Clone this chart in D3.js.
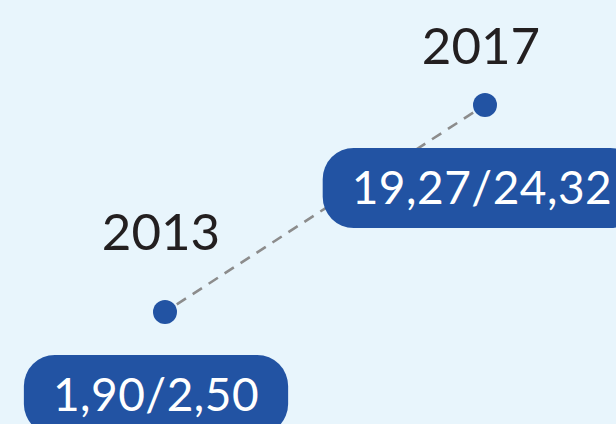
<!DOCTYPE html>
<html>
<head>
<meta charset="utf-8">
<script src="https://cdn.jsdelivr.net/npm/d3@7"></script>
<style>
  html, body { margin: 0; padding: 0; background: #e8f5fc; overflow: hidden; }
  svg { display: block; }
</style>
</head>
<body>
<div id="chart"></div>
<script>
// data
const years = [2013, 2017];
const lowValues = [1.90, 19.27];
const highValues = [2.50, 24.32];

const width = 616, height = 424;
const fmt = v => v.toFixed(2).replace('.', ',');

// how far each year label sits above its marker, and each pill's sideways shift
const labelLift = { 2013: 62, 2017: 41 };
const pillShift = { 2013: -9, 2017: -3 };

const svg = d3.select('#chart').append('svg')
  .attr('width', width)
  .attr('height', height);

svg.append('rect')
  .attr('width', width).attr('height', height)
  .attr('fill', '#e8f5fc');

const x = d3.scaleLinear().domain([2013, 2017]).range([165, 485]);
const y = d3.scaleLinear().domain([1.90, 19.27]).range([312, 105]);

const points = years.map((yr, i) => ({ year: yr, low: lowValues[i], high: highValues[i] }));

// dashed connector
svg.append('path')
  .datum(points)
  .attr('fill', 'none')
  .attr('stroke', '#8c8c8c')
  .attr('stroke-width', 2.6)
  .attr('stroke-dasharray', '11 8')
  .attr('stroke-dashoffset', -14)
  .attr('d', d3.line().x(d => x(d.year)).y(d => y(d.low)));

// markers
svg.selectAll('circle.pt')
  .data(points)
  .enter().append('circle')
  .attr('class', 'pt')
  .attr('cx', d => x(d.year))
  .attr('cy', d => y(d.low))
  .attr('r', 12)
  .attr('fill', '#2253a3');

// year labels
svg.selectAll('text.year')
  .data(points)
  .enter().append('text')
  .attr('class', 'year')
  .attr('x', d => x(d.year) - 4)
  .attr('y', d => y(d.low) - labelLift[d.year])
  .attr('text-anchor', 'middle')
  .attr('font-family', 'Lato, sans-serif')
  .attr('font-weight', 400)
  .attr('font-size', 51)
  .attr('fill', '#231f20')
  .text(d => d.year);

// value pills
const pills = svg.selectAll('g.pill')
  .data(points)
  .enter().append('g')
  .attr('class', 'pill')
  .attr('transform', d => `translate(${x(d.year) + pillShift[d.year]},${y(d.low) + 83})`);

pills.each(function(d) {
  const g = d3.select(this);
  const t = g.append('text')
    .attr('text-anchor', 'middle')
    .attr('y', 16)
    .attr('font-family', 'Lato, sans-serif')
    .attr('font-weight', 400)
    .attr('font-size', 46)
    .attr('letter-spacing', 0.5)
    .attr('fill', '#ffffff')
    .text(`${fmt(d.low)}/${fmt(d.high)}`);
  const w = t.node().getComputedTextLength();
  g.insert('rect', 'text')
    .attr('x', -w / 2 - 29)
    .attr('y', -40)
    .attr('width', w + 58)
    .attr('height', 80)
    .attr('rx', 31)
    .attr('fill', '#2253a3');
});
</script>
</body>
</html>
